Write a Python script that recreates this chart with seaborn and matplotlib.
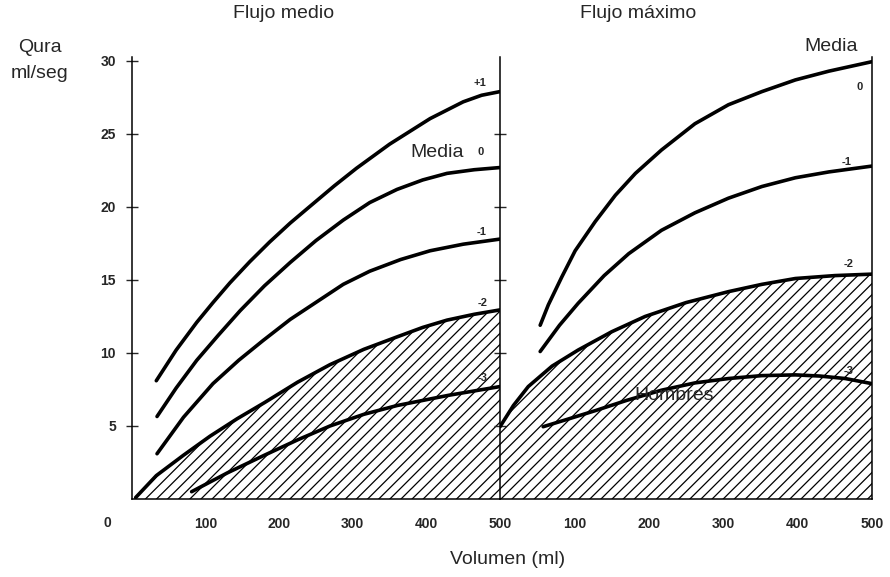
import matplotlib
matplotlib.use("Agg")
import matplotlib.pyplot as plt
import seaborn as sns

# Flujo medio (left panel), volumen ml vs flujo ml/seg
medio_x_p1 = [33, 60, 88, 110, 133, 160, 187, 215, 242, 275, 305, 350, 405, 450, 475, 500]
medio_y_p1 = [8.1, 10.2, 12.1, 13.45, 14.8, 16.25, 17.6, 18.9, 20.05, 21.45, 22.65, 24.3, 26.05, 27.2, 27.65, 27.9]
medio_x_0 = [34, 60, 88, 117, 147, 180, 215, 250, 287, 323, 360, 395, 428, 465, 500]
medio_y_0 = [5.65, 7.6, 9.5, 11.2, 12.9, 14.6, 16.2, 17.7, 19.1, 20.3, 21.2, 21.85, 22.3, 22.55, 22.7]
medio_x_m1 = [34, 70, 110, 145, 178, 215, 251, 287, 323, 365, 405, 450, 500]
medio_y_m1 = [3.1, 5.6, 7.9, 9.5, 10.85, 12.3, 13.5, 14.7, 15.6, 16.4, 17.0, 17.45, 17.8]
medio_x_m2 = [5, 33, 70, 106, 143, 180, 225, 269, 315, 360, 395, 428, 465, 500]
medio_y_m2 = [0.1, 1.6, 3.0, 4.3, 5.5, 6.6, 8.0, 9.2, 10.25, 11.1, 11.75, 12.25, 12.65, 12.95]
medio_x_m3 = [81, 130, 180, 225, 269, 315, 360, 430, 500]
medio_y_m3 = [0.5, 1.8, 3.0, 4.05, 5.0, 5.8, 6.4, 7.1, 7.7]

# Flujo maximo (right panel)
max_x_0 = [54, 65, 83, 101, 128, 155, 182, 217, 262, 307, 352, 397, 442, 500]
max_y_0 = [11.9, 13.3, 15.2, 17.0, 19.0, 20.8, 22.3, 23.9, 25.7, 27.0, 27.9, 28.7, 29.3, 29.95]
max_x_m1 = [54, 80, 105, 140, 173, 217, 262, 307, 352, 397, 442, 500]
max_y_m1 = [10.1, 11.9, 13.4, 15.3, 16.8, 18.4, 19.6, 20.6, 21.4, 22.0, 22.4, 22.8]
max_x_m2 = [0, 18, 38, 70, 105, 150, 195, 250, 307, 352, 397, 450, 500]
max_y_m2 = [4.95, 6.4, 7.7, 9.1, 10.2, 11.45, 12.5, 13.45, 14.2, 14.7, 15.1, 15.3, 15.4]
max_x_m3 = [58, 90, 128, 170, 217, 262, 307, 352, 397, 430, 464, 500]
max_y_m3 = [4.95, 5.45, 6.05, 6.75, 7.45, 7.95, 8.25, 8.45, 8.5, 8.42, 8.25, 7.9]

y_ticks = [5, 10, 15, 20, 25, 30]
x_ticks = [100, 200, 300, 400, 500]

sns.set_style("white")
plt.rcParams['font.family'] = ['Liberation Sans', 'DejaVu Sans']
plt.rcParams['hatch.linewidth'] = 0.9

fig = plt.figure(figsize=(8.9, 5.77), dpi=100)
W, H = 890.0, 577.0
ax1 = fig.add_axes([132 / W, 1 - 499 / H, 368 / W, 442 / H])
ax2 = fig.add_axes([500 / W, 1 - 499 / H, 372 / W, 442 / H])

lw = 2.6
for xs, ys in [(medio_x_p1, medio_y_p1), (medio_x_0, medio_y_0), (medio_x_m1, medio_y_m1),
               (medio_x_m2, medio_y_m2), (medio_x_m3, medio_y_m3)]:
    sns.lineplot(x=xs, y=ys, ax=ax1, color="black", linewidth=lw, solid_joinstyle="round")
for xs, ys in [(max_x_0, max_y_0), (max_x_m1, max_y_m1), (max_x_m2, max_y_m2), (max_x_m3, max_y_m3)]:
    sns.lineplot(x=xs, y=ys, ax=ax2, color="black", linewidth=lw, solid_joinstyle="round")

# hatched area under the -2 curve
ax1.fill_between(medio_x_m2, medio_y_m2, 0, facecolor="none", edgecolor="black", hatch="///", linewidth=0)
ax2.fill_between(max_x_m2, max_y_m2, 0, facecolor="none", edgecolor="black", hatch="///", linewidth=0)

for ax in (ax1, ax2):
    ax.set_xlim(0, 500)
    ax.set_ylim(0, 30.27)
    ax.set_xticks(x_ticks)
    ax.set_xticklabels([str(t) for t in x_ticks], fontsize=10, fontweight="bold")
    ax.tick_params(axis="x", length=0, pad=13)
    ax.spines["top"].set_visible(False)
    for s in ax.spines.values():
        s.set_linewidth(1.1)
        s.set_color("black")
    ax.patch.set_alpha(0)

ax1.spines["right"].set_visible(False)
ax1.set_yticks(y_ticks)
ax1.set_yticklabels([str(t) for t in y_ticks], fontsize=10, fontweight="bold")
ax1.tick_params(axis="y", direction="inout", length=9, width=1.0, pad=7, left=True)

ax2.set_yticks([5, 10, 15, 20, 25])
ax2.set_yticklabels([])
ax2.tick_params(axis="y", direction="inout", length=9, width=1.0, left=True, right=False)

small = dict(fontsize=8, fontweight="bold", ha="center", va="center")
ax1.text(472, 28.5, "+1", **small)
ax1.text(473, 23.75, "0", **small)
ax1.text(475, 18.3, "-1", **small)
ax1.text(477, 13.4, "-2", **small)
ax1.text(476, 8.3, "-3", **small)
ax1.text(414, 23.75, "Media", fontsize=14, ha="center", va="center")

ax2.text(483, 28.2, "0", **small)
ax2.text(466, 23.1, "-1", **small)
ax2.text(468, 16.1, "-2", **small)
ax2.text(468, 8.8, "-3", **small)
ax2.text(445, 31.0, "Media", fontsize=14, ha="center", va="center")
ax2.text(234, 7.1, "Hombres", fontsize=14, ha="center", va="center")

fig.text(284 / W, 1 - 13 / H, "Flujo medio", fontsize=14, ha="center", va="center")
fig.text(638 / W, 1 - 13 / H, "Flujo máximo", fontsize=14, ha="center", va="center")
fig.text(40 / W, 1 - 48 / H, "Qura", fontsize=14, ha="center", va="center")
fig.text(40 / W, 1 - 73 / H, "ml/seg", fontsize=14, ha="center", va="center")
fig.text(508 / W, 1 - 560 / H, "Volumen (ml)", fontsize=14, ha="center", va="center")
fig.text(107 / W, 1 - 523 / H, "0", fontsize=10, fontweight="bold", ha="center", va="center")

fig.savefig("out.png", dpi=100)
